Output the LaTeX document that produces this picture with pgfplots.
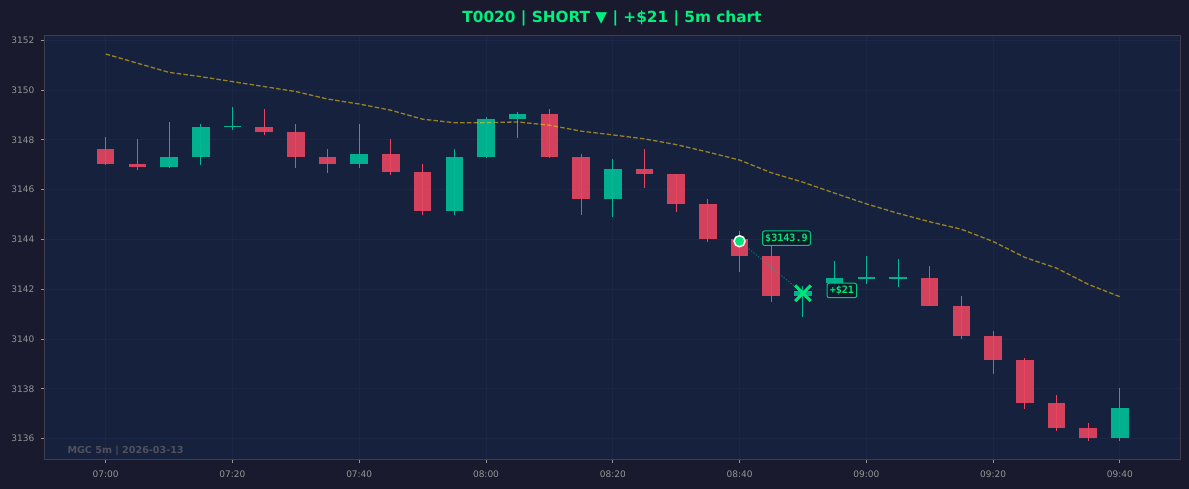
\documentclass[border=0pt]{standalone}
\usepackage{pgfplots}
\pgfplotsset{compat=1.18}
\usepackage{pgfplotstable}
\usepackage{fontspec}
\setmainfont{DejaVu Sans}
\newfontfamily\monofont{DejaVu Sans Mono}
\definecolor{outerbg}{HTML}{1A1A2E}
\definecolor{axisbg}{HTML}{16213E}
\definecolor{gridcol}{HTML}{1C2745}
\definecolor{framecol}{HTML}{3E3E4E}
\definecolor{tickcol}{HTML}{959595}
\definecolor{bearcol}{HTML}{E94560}
\definecolor{bullcol}{HTML}{00B894}
\definecolor{macol}{HTML}{F1C40F}
\definecolor{brightgreen}{HTML}{00E676}
\definecolor{titlegreen}{HTML}{00F080}
\definecolor{labelfill}{HTML}{0F1A2C}
\definecolor{labeldraw}{HTML}{00C878}
\definecolor{wmark}{HTML}{50505E}

\pgfplotstableread{
t o h l c
0 3147.63 3148.12 3147.00 3147.03
1 3147.03 3148.04 3146.79 3146.91
5 3148.52 3149.24 3148.20 3148.32
6 3148.32 3148.64 3146.87 3147.31
7 3147.31 3147.63 3146.67 3147.03
9 3147.43 3148.04 3146.59 3146.71
10 3146.71 3147.03 3144.98 3145.14
14 3149.04 3149.24 3147.27 3147.31
15 3147.31 3147.43 3144.98 3145.63
17 3146.83 3147.63 3146.07 3146.63
18 3146.63 3146.63 3145.11 3145.43
19 3145.43 3145.63 3143.90 3144.02
20 3144.02 3144.34 3142.69 3143.34
21 3143.34 3143.78 3141.49 3141.73
26 3142.45 3142.93 3141.33 3141.33
27 3141.33 3141.73 3140.00 3140.12
28 3140.12 3140.33 3138.60 3139.16
29 3139.16 3139.24 3137.19 3137.43
30 3137.43 3137.75 3136.31 3136.43
31 3136.43 3136.63 3135.91 3136.03
}\bear

\pgfplotstableread{
t o h l c
2 3146.91 3148.72 3146.87 3147.31
3 3147.31 3148.64 3146.99 3148.52
4 3148.55 3149.32 3148.40 3148.56
8 3147.03 3148.64 3146.87 3147.43
11 3145.14 3147.63 3144.98 3147.31
12 3147.31 3148.92 3147.27 3148.84
13 3148.84 3149.12 3148.08 3149.04
16 3145.63 3147.23 3144.90 3146.83
22 3141.73 3142.13 3140.89 3141.93
23 3142.25 3143.13 3141.90 3142.45
24 3142.48 3143.34 3142.21 3142.49
25 3142.48 3143.22 3142.09 3142.49
32 3136.03 3138.04 3135.91 3137.23
}\bull

\begin{document}
\begin{tikzpicture}
\fill[outerbg] (-44.3bp,-29.7bp) rectangle (1144.7bp,459.3bp);
\begin{axis}[
  scale only axis, width=1136bp, height=424bp,
  at={(0,0)}, anchor=south west,
  xmin=-1.937, xmax=33.91, ymin=3135.17, ymax=3152.2,
  axis background/.style={fill=axisbg},
  axis line style={draw=framecol, line width=0.8bp},
  xtick={0,4,...,32},
  xticklabels={07:00,07:20,07:40,08:00,08:20,08:40,09:00,09:20,09:40},
  ytick={3136,3138,...,3152},
  /pgf/number format/1000 sep={},
  /pgf/number format/assume math mode=true,
  tick label style={font=\fontsize{9bp}{10bp}\selectfont, text=tickcol},
  yticklabel style={xshift=-3bp},
  xticklabel style={yshift=-4.5bp},
  tick align=outside, xtick pos=bottom, ytick pos=left,
  major tick length=3.5bp,
  every tick/.style={draw=tickcol, line width=0.8bp},
  grid=major, major grid style={draw=gridcol, line width=0.8bp},
]
% bodies
\addplot[draw=none, mark=none, forget plot,
  error bars/.cd, y dir=both, y explicit, error mark=none,
  error bar style={draw=bearcol, draw opacity=0.9, line width=17.5bp}]
  table[x=t, y expr={(\thisrow{o}+\thisrow{c})/2},
        y error expr={max(abs(\thisrow{o}-\thisrow{c})/2,0.025)}] {\bear};
\addplot[draw=none, mark=none, forget plot,
  error bars/.cd, y dir=both, y explicit, error mark=none,
  error bar style={draw=bullcol, draw opacity=0.95, line width=17.5bp}]
  table[x=t, y expr={(\thisrow{o}+\thisrow{c})/2},
        y error expr={max(abs(\thisrow{o}-\thisrow{c})/2,0.025)}] {\bull};
% wicks
\addplot[draw=none, mark=none, forget plot,
  error bars/.cd, y dir=both, y explicit, error mark=none,
  error bar style={draw=bearcol, line width=1bp}]
  table[x=t, y=c, y error plus expr={\thisrow{h}-\thisrow{c}},
        y error minus expr={\thisrow{c}-\thisrow{l}}] {\bear};
\addplot[draw=none, mark=none, forget plot,
  error bars/.cd, y dir=both, y explicit, error mark=none,
  error bar style={draw=bullcol, line width=1bp}]
  table[x=t, y=c, y error plus expr={\thisrow{h}-\thisrow{c}},
        y error minus expr={\thisrow{c}-\thisrow{l}}] {\bull};
% moving average
\addplot[macol, draw opacity=0.6, line width=1.3bp, dash pattern=on 4.5bp off 2.2bp] coordinates {
(0,3151.45) (1,3151.08) (2,3150.71) (3,3150.54) (4,3150.34) (5,3150.14)
(6,3149.94) (7,3149.64) (8,3149.44) (9,3149.19) (10,3148.83) (11,3148.69)
(12,3148.69) (13,3148.72) (14,3148.59) (15,3148.35) (16,3148.20) (17,3148.04)
(18,3147.81) (19,3147.51) (20,3147.19) (21,3146.68) (22,3146.30) (23,3145.86)
(24,3145.43) (25,3145.05) (26,3144.71) (27,3144.41) (28,3143.92) (29,3143.28)
(30,3142.85) (31,3142.20) (32,3141.70)};
% trade path
\addplot[bullcol, draw opacity=0.45, line width=1.3bp, dash pattern=on 1.3bp off 1.7bp] coordinates {(20,3143.93) (22,3141.84)};
\addplot[only marks, mark=*, mark size=5.5bp, mark options={fill=brightgreen, draw=white, line width=1.5bp}] coordinates {(20,3143.93)};
\addplot[only marks, mark=x, mark size=11bp, mark options={draw=brightgreen, line width=3bp}] coordinates {(22,3141.84)};
% labels
\node[font=\monofont\bfseries\fontsize{10.1bp}{12bp}\selectfont, text=brightgreen,
  fill=labelfill, fill opacity=0.85, text opacity=1, draw=labeldraw, draw opacity=1, line width=1bp,
  rounded corners=2bp, inner xsep=2.6bp, inner ysep=0bp, minimum height=14.5bp]
  at (axis cs:21.48,3144.05) {\$3143.9};
\node[font=\monofont\bfseries\fontsize{10.1bp}{12bp}\selectfont, text=brightgreen,
  fill=labelfill, fill opacity=0.85, text opacity=1, draw=labeldraw, draw opacity=1, line width=1bp,
  rounded corners=2bp, inner xsep=2.6bp, inner ysep=0bp, minimum height=14.5bp]
  at (axis cs:23.23,3141.95) {+\$21};
\node[font=\bfseries\fontsize{9.6bp}{11bp}\selectfont, text=wmark, anchor=base west, inner sep=0pt]
  at (rel axis cs:0.0203,0.0145) {MGC 5m | 2026-03-13};
\end{axis}
\node[font=\bfseries\fontsize{15.3bp}{18bp}\selectfont, text=titlegreen] at (567.7bp,440.5bp)
  {T0020 | SHORT ▼ | +\$21 | 5m chart};
\pgfresetboundingbox
\path[use as bounding box] (-44.3bp,-29.7bp) rectangle (1144.7bp,459.3bp);
\end{tikzpicture}
\end{document}
